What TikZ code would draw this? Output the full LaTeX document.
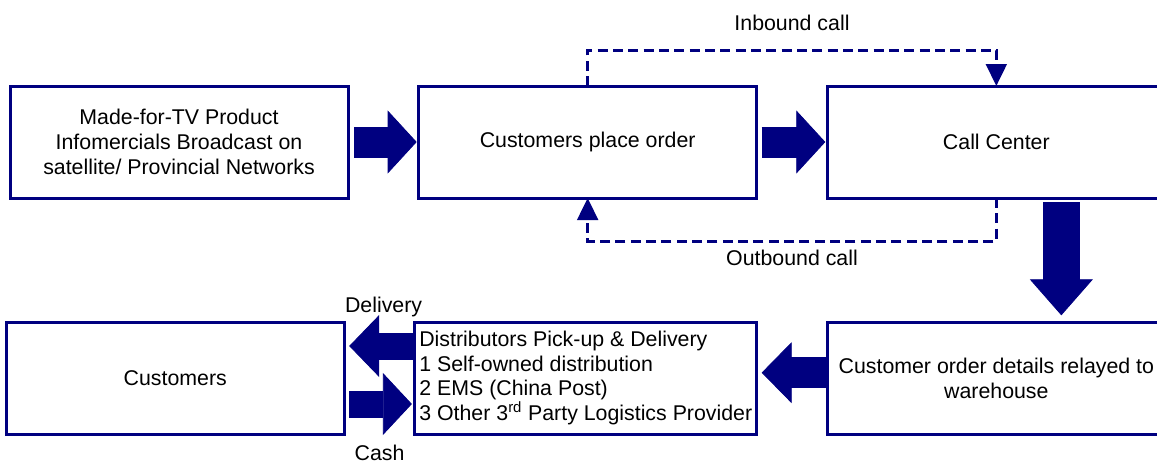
\documentclass[tikz,border=0pt]{standalone}
\usepackage{fontspec}
\setmainfont{Liberation Sans}
\usetikzlibrary{positioning, arrows.meta}
\definecolor{boxblue}{RGB}{0,0,128}

\begin{document}
\begin{tikzpicture}[font=\fontsize{16}{18.6}\selectfont,
    box/.style={draw=boxblue, line width=2.25pt, minimum width=253.5pt, minimum height=84pt, align=center, outer sep=0pt},
    bigarrow/.style={boxblue, line width=23.25pt, -{Triangle[length=21.75pt, width=47.25pt, line width=0.6pt]}},
    callline/.style={boxblue, line width=2.25pt, dash pattern=on 7.5pt off 4pt, -{Triangle[length=16.5pt, width=15.5pt]}},
    label/.style={text=black, outer sep=0pt}]
      \useasboundingbox (0,0) rectangle (867.75pt,-348pt);
      \clip (0,0) rectangle (867.75pt,-348pt);

      % Nodes
      \node[box] (broadcast) at (134.25pt,-106.5pt) {Made-for-TV Product\\Infomercials Broadcast on\\satellite/ Provincial Networks};
      \node[box, right=53pt of broadcast] (order) {Customers place order};
      \node[box, right=53pt of order] (callcenter) {Call Center};
      \node[box, below=93pt of callcenter] (warehouse) {Customer order details relayed to\\warehouse};
      \node[box, left=53pt of warehouse, align=left] (distrib) {Distributors Pick-up \& Delivery\\1 Self-owned distribution\\2 EMS (China Post)\\3 Other 3\textsuperscript{rd} Party Logistics Provider};
      \node[box, left=53pt of distrib] (customers) {Customers};

      % Connections
      \draw[bigarrow, shorten <=4.5pt, shorten >=1.5pt] (broadcast) -- (order);
      \draw[bigarrow, shorten <=3.75pt, shorten >=1.5pt] (order) -- (callcenter);
      \draw[bigarrow, line width=27.75pt, -{Triangle[length=27pt, width=47.25pt, line width=0.6pt]}, shorten <=3pt, shorten >=5pt]
        ([xshift=48.75pt]callcenter.south) -- ([xshift=48.75pt]warehouse.north);
      \draw[bigarrow, -{Triangle[length=22.5pt, width=45.75pt, line width=0.6pt]}, shorten <=0.75pt, shorten >=3.75pt]
        ([yshift=4pt]warehouse.west) -- ([yshift=4pt]distrib.east);
      \draw[bigarrow, line width=20.25pt, -{Triangle[length=22.5pt, width=46.5pt, line width=0.6pt]}, shorten <=1.5pt, shorten >=3.75pt]
        ([yshift=24pt]distrib.west) -- node[midway, above=18.3pt, xshift=3pt, label] {Delivery} ([yshift=24pt]customers.east);
      \draw[bigarrow, line width=20.25pt, -{Triangle[length=21.75pt, width=46.5pt, line width=0.6pt]}, shorten <=3.75pt, shorten >=2.25pt]
        ([yshift=-19.5pt]customers.east) -- node[midway, below=27.5pt, label] {Cash} ([yshift=-19.5pt]distrib.west);

      % Calls
      \draw[callline] (order.north) -- ++(0,27pt) -| node[pos=0.25, above=11pt, label] {Inbound call} (callcenter.north);
      \draw[callline] (callcenter.south) -- ++(0,-32.25pt) -| node[pos=0.25, below=3.7pt, label] {Outbound call} (order.south);
    \end{tikzpicture}
\end{document}
